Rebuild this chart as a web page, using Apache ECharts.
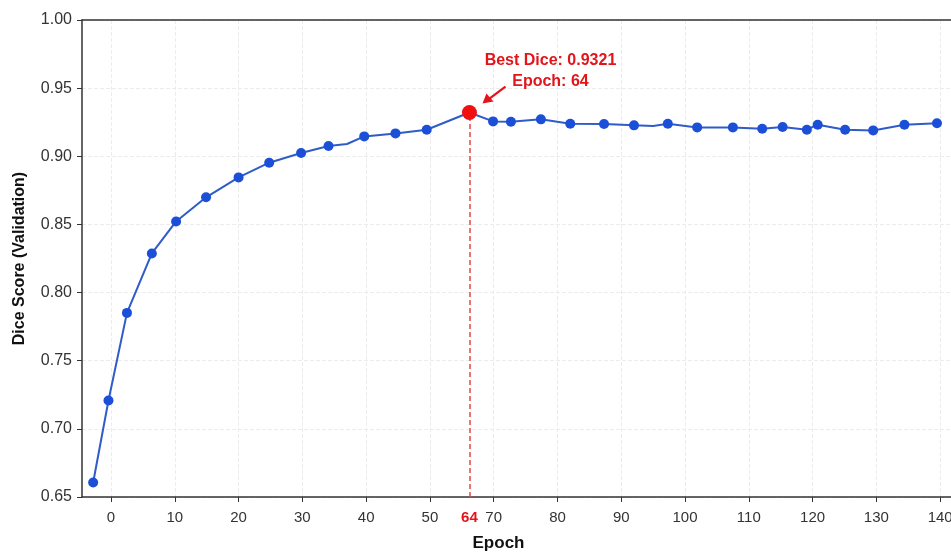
<!DOCTYPE html>
<html>
<head>
<meta charset="utf-8">
<script src="https://cdn.jsdelivr.net/npm/echarts@6/dist/echarts.min.js"></script>
<style>
  html, body { margin: 0; padding: 0; background: #fff; }
  #main { width: 951px; height: 552px; }
</style>
</head>
<body>
<div id="main"></div>
<script>
// x positions are in axis units (ticks evenly spaced, labelled as in the picture)
var epochPos = [-2.8, -0.4, 2.5, 6.4, 10.2, 14.9, 20.0, 24.8, 29.8, 34.1, 37.0, 39.7, 44.6, 49.5,
  56.2, 59.9, 62.7, 67.4, 72.0, 77.3, 82.0, 85.0, 87.3, 91.9, 97.5, 102.1, 105.3, 109.1, 110.8,
  115.1, 119.5, 124.4, 129.5];
var diceVal = [0.6606, 0.7208, 0.7851, 0.8287, 0.8522, 0.8699, 0.8845, 0.8953, 0.9024, 0.9075, 0.9090,
  0.9146, 0.9168, 0.9195, 0.9321, 0.9256, 0.9254, 0.9271, 0.9239, 0.9237, 0.9227, 0.9222, 0.9239,
  0.9212, 0.9212, 0.9202, 0.9215, 0.9195, 0.9232, 0.9195, 0.9190, 0.9232, 0.9242];
// points drawn without a marker (line bends only)
var noMarker = [10, 21];
var xTickPos = [0, 10, 20, 30, 40, 50, 60, 70, 80, 90, 100, 110, 120, 130];
var xTickLabels = ['0', '10', '20', '30', '40', '50', '70', '80', '90', '100', '110', '120', '130', '140'];
var bestEpoch = 64;

var bestIdx = 0;
diceVal.forEach(function (v, i) { if (v > diceVal[bestIdx]) bestIdx = i; });
var bestX = epochPos[bestIdx];
var bestY = diceVal[bestIdx];

var lineData = epochPos.map(function (x, i) {
  var item = { value: [x, diceVal[i]] };
  if (noMarker.indexOf(i) >= 0 || i === bestIdx) item.symbol = 'none';
  return item;
});

var font = '"Liberation Sans", Arial, Helvetica, sans-serif';
var red = '#e3141a';
var gridLine = { show: true, lineStyle: { color: '#ececec', type: 'dashed', width: 1 } };
var dom = document.getElementById('main');
var myChart = echarts.init(dom);

var option = {
  backgroundColor: '#fff',
  animation: false,
  grid: { left: 82, right: 0, top: 20, bottom: 55, outerBoundsMode: 'none', containLabel: false },
  xAxis: [
    {
      type: 'value',
      min: -4.55, max: 131.7,
      name: 'Epoch',
      nameLocation: 'middle',
      nameGap: 38,
      nameTextStyle: { fontFamily: font, fontWeight: 'bold', fontSize: 17, color: '#111', padding: [0, 36, 0, 0] },
      axisLine: { show: true, onZero: false, lineStyle: { color: '#333', width: 1.5 } },
      axisTick: { show: true, length: 5, lineStyle: { color: '#333' }, customValues: xTickPos },
      axisLabel: {
        customValues: xTickPos.concat([bestX]),
        margin: 13,
        fontFamily: font, fontSize: 15, color: '#333',
        formatter: function (v) {
          if (Math.abs(v - bestX) < 1e-6) return '{best|' + bestEpoch + '}';
          return xTickLabels[Math.round(v / 10)];
        },
        rich: { best: { color: red, fontWeight: 'bold', fontSize: 15, fontFamily: font } }
      },
      splitLine: gridLine
    },
    {
      // top frame line only
      type: 'value', position: 'top',
      min: -4.55, max: 131.7,
      axisLine: { show: true, onZero: false, lineStyle: { color: '#333', width: 1.5 } },
      axisTick: { show: false }, axisLabel: { show: false }, splitLine: { show: false }
    }
  ],
  yAxis: {
    type: 'value',
    min: 0.65, max: 1.0, interval: 0.05,
    name: 'Dice Score (Validation)',
    nameLocation: 'middle',
    nameGap: 54,
    nameTextStyle: { fontFamily: font, fontWeight: 'bold', fontSize: 16, color: '#111' },
    axisLine: { show: true, onZero: false, lineStyle: { color: '#333', width: 1.5 } },
    axisTick: { show: true, length: 5, lineStyle: { color: '#333' } },
    axisLabel: {
      margin: 10, fontFamily: font, fontSize: 16, color: '#333',
      formatter: function (v) { return v.toFixed(2); }
    },
    splitLine: gridLine
  },
  series: [
    {
      type: 'line',
      data: lineData,
      symbol: 'circle',
      symbolSize: 10,
      lineStyle: { color: '#2f5cc6', width: 2 },
      itemStyle: { color: '#1c4fd8' },
      markLine: {
        silent: true,
        symbol: 'none',
        label: { show: false },
        lineStyle: { color: '#e8454a', type: [5, 3], width: 1.5 },
        data: [[
          { coord: [bestX, 0.65], lineStyle: { color: '#e8454a', type: [5, 3], width: 1.5 } },
          { coord: [bestX, bestY] }
        ]]
      },
      z: 3
    },
    {
      type: 'scatter',
      data: [[bestX, bestY]],
      symbolSize: 15,
      itemStyle: { color: '#f01010', opacity: 1 },
      z: 5
    }
  ]
};
myChart.setOption(option, true);

// annotation text and arrow placed relative to the best point
var p = myChart.convertToPixel({ gridIndex: 0 }, [bestX, bestY]);
myChart.setOption({
  graphic: [
    {
      type: 'text',
      x: p[0] + 81, y: p[1] - 41,
      style: {
        text: 'Best Dice: ' + bestY.toFixed(4) + '\nEpoch: ' + bestEpoch,
        fill: red, font: 'bold 16px ' + font,
        align: 'center', verticalAlign: 'middle', lineHeight: 21
      }
    },
    {
      type: 'line',
      shape: { x1: p[0] + 36, y1: p[1] - 26, x2: p[0] + 20, y2: p[1] - 14 },
      style: { stroke: red, lineWidth: 2.2 }
    },
    {
      type: 'polygon',
      shape: { points: [[p[0] + 13, p[1] - 9], [p[0] + 17, p[1] - 19], [p[0] + 24, p[1] - 11]] },
      style: { fill: red }
    }
  ]
});
</script>
</body>
</html>
